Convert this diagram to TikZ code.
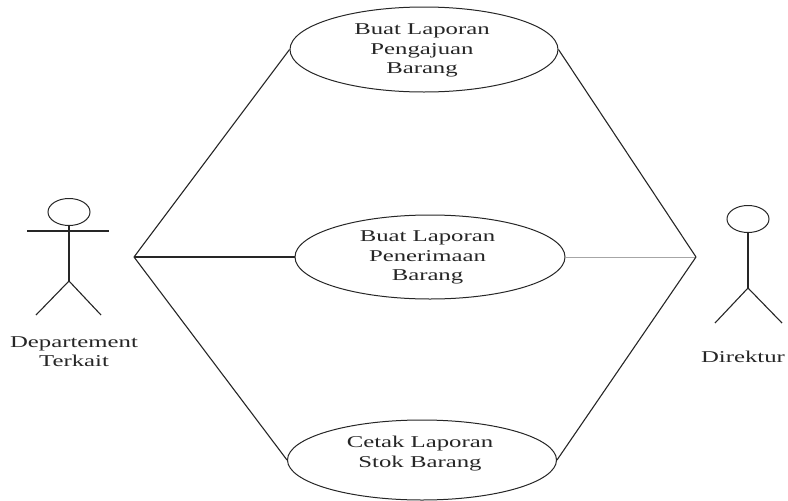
\documentclass[tikz,border=0pt]{standalone}
\usepackage{fontspec}
\setmainfont[FakeStretch=1.5]{Liberation Serif}
\usetikzlibrary{shapes.geometric}
\tikzset{
  usecase/.style={ellipse,draw=black!85,line width=1pt,fill=white,inner sep=0pt},
  head/.style={ellipse,draw=black!85,line width=1pt,inner sep=0pt,minimum width=42pt,minimum height=27pt},
  limb/.style={draw=black!85,line width=1.1pt},
  assoc/.style={draw=black!85,line width=1.1pt},
  faint/.style={draw=black!35,line width=0.8pt},
  label text/.style={inner sep=0pt,align=center,font=\fontsize{16.5}{19.5}\selectfont,text=black!85}
}
\begin{document}
\begin{tikzpicture}[x=1pt,y=-1pt]
\useasboundingbox (0,0) rectangle (788,501);
% junctions
\coordinate (jl) at (134,257);
\coordinate (jr) at (696,257);
% use cases
\node[usecase,minimum width=268pt,minimum height=85pt] (uc1) at (424,49.5) {};
\node[label text] (t1) at (422,50.5) {Buat Laporan\\Pengajuan\\Barang};
\node[usecase,minimum width=270pt,minimum height=84pt] (uc2) at (430,257) {};
\node[label text] (t2) at (427.5,257.5) {Buat Laporan\\Penerimaan\\Barang};
\node[usecase,minimum width=269pt,minimum height=80pt] (uc3) at (422,460) {};
\node[label text] (t3) at (420,453.5) {Cetak Laporan\\Stok Barang};
% connectors
\draw[assoc] (jl) -- (uc1.west);
\draw[assoc] (jl) -- (uc2.west);
\draw[assoc] (jl) -- (uc3.west);
\draw[assoc] (jr) -- (uc1.east);
\draw[faint] (jr) -- (uc2.east);
\draw[assoc] (jr) -- (uc3.east);
% left actor
\node[head] (h1) at (69,212) {};
\coordinate (a1l) at (27,231);
\coordinate (a1r) at (109,231);
\coordinate (hip1) at (69,281);
\coordinate (f1l) at (36,315);
\coordinate (f1r) at (101,315);
\draw[limb] (h1.south) -- (hip1);
\draw[limb] (a1l) -- (a1r);
\draw[limb] (f1l) -- (hip1) -- (f1r);
\node[label text] (l1) at (74,351.5) {Departement\\Terkait};
% right actor
\node[head] (h2) at (748,219) {};
\coordinate (hip2) at (748,288);
\coordinate (f2l) at (715,323);
\coordinate (f2r) at (782,323);
\draw[limb] (h2.south) -- (hip2);
\draw[limb] (f2l) -- (hip2) -- (f2r);
\node[label text] (l2) at (743,357) {Direktur};
\end{tikzpicture}
\end{document}
